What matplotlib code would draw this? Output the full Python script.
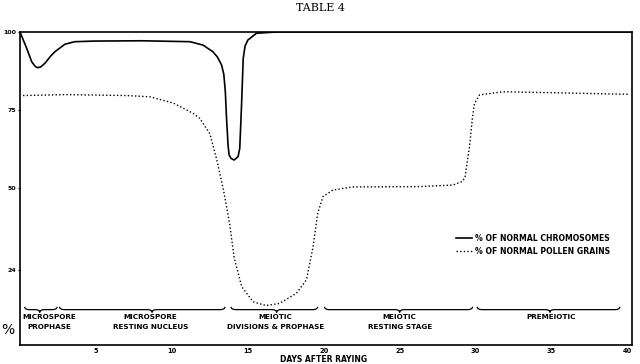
import matplotlib
matplotlib.use('Agg')
import matplotlib.pyplot as plt
from matplotlib.path import Path
from matplotlib.patches import PathPatch

# 染色体正常百分比 (实线)
chrom_days = [0, 0.22, 0.44, 0.77, 1.0, 1.16, 1.35, 1.64, 2.0, 2.3, 2.96, 3.6, 4.9, 8.0,
              11.2, 12.06, 12.7, 13.0, 13.27, 13.42, 13.52, 13.6, 13.7, 13.77, 13.9, 14.1,
              14.36, 14.47, 14.58, 14.7, 14.82, 15.0, 15.57, 16.9, 20, 30, 40.3]
chrom_pct = [100, 97.4, 94.8, 90.5, 89.0, 88.6, 88.8, 90.0, 92.2, 93.7, 96.1, 96.9, 97.1, 97.2,
             96.9, 95.8, 93.7, 92.0, 89.5, 86.5, 81.0, 72.5, 63.9, 60.7, 59.6, 59.1,
             60.2, 62.8, 75.6, 91.6, 95.5, 97.4, 99.6, 100, 100, 100, 100]

# 花粉正常百分比 (虚线)
pollen_days = [0.2, 3.0, 7.0, 8.55, 10.1, 11.4, 11.84, 12.5, 12.94, 13.4, 13.8, 14.1, 14.6,
               15.35, 16.2, 17.1, 18.2, 18.86, 19.3, 19.6, 19.95, 20.6, 21.9, 26.3, 28.5,
               29.1, 29.3, 29.6, 29.8, 29.93, 30.26, 31.8, 35.1, 40.1]
pollen_pct = [79.7, 80.0, 79.7, 79.3, 77.3, 74.0, 72.4, 67.5, 59.5, 49.5, 38.9, 28.0, 18.6,
              13.8, 12.6, 13.3, 16.5, 20.8, 31.4, 42.0, 47.4, 49.5, 50.5, 50.6, 51.1,
              52.2, 53.4, 63.4, 72.9, 77.2, 79.9, 80.9, 80.6, 80.1]

# 各阶段
phase_start = [0.3, 2.6, 13.9, 20.05, 30.1]
phase_end = [2.45, 13.5, 19.6, 29.8, 39.5]
phase_tip = [1.3, 8.7, 16.9, 25.0, 34.9]
phase_label_x = [1.95, 8.6, 16.8, 25.0, 35.0]
phase_labels = ['MICROSPORE\nPROPHASE', 'MICROSPORE\nRESTING NUCLEUS',
                'MEIOTIC\nDIVISIONS & PROPHASE', 'MEIOTIC\nRESTING STAGE', 'PREMEIOTIC']

x_ticks = [5, 10, 15, 20, 25, 30, 35, 40]
y_ticks = [24, 50, 75, 100]
y_tick_labels = ['24', '50', '75', '100']
legend_labels = ['% OF NORMAL CHROMOSOMES', '% OF NORMAL POLLEN GRAINS']

plt.rcParams['font.family'] = ['DejaVu Sans']
fig = plt.figure(figsize=(6.4, 3.64), dpi=100)
ax = fig.add_axes([20 / 640, 1 - 345 / 364, 612 / 640, 313 / 364])

ax.plot(chrom_days, chrom_pct, color='black', lw=1.2, solid_joinstyle='round',
        label=legend_labels[0])
ax.plot(pollen_days, pollen_pct, color='black', lw=1.0, linestyle=(0, (1, 1.6)),
        label=legend_labels[1])

ax.set_xlim(0, 40.3)
ax.set_ylim(0, 100)

for s in ax.spines.values():
    s.set_linewidth(1.2)

ax.set_xticks(x_ticks)
ax.set_xticklabels([str(t) for t in x_ticks], fontsize=4.8, fontweight='bold')
ax.set_yticks(y_ticks)
ax.set_yticklabels(y_tick_labels, fontsize=4.5, fontweight='bold')
ax.tick_params(axis='x', length=0, pad=2.5)
ax.tick_params(axis='y', length=1.5, width=0.8, pad=1)

# 大括号
y_br, h, d = 11.3, 0.9, 0.3
for x0, x1, xm in zip(phase_start, phase_end, phase_tip):
    verts = [(x0, y_br + h), (x0 + 0.02, y_br), (x0 + d, y_br),
             (xm - d, y_br), (xm, y_br), (xm, y_br - h),
             (xm, y_br), (xm + d, y_br),
             (x1 - d, y_br), (x1 - 0.02, y_br), (x1, y_br + h)]
    codes = [Path.MOVETO, Path.CURVE3, Path.CURVE3,
             Path.LINETO, Path.CURVE3, Path.CURVE3,
             Path.CURVE3, Path.CURVE3,
             Path.LINETO, Path.CURVE3, Path.CURVE3]
    ax.add_patch(PathPatch(Path(verts, codes), fill=False, lw=0.9, color='black'))

for xl, lab in zip(phase_label_x, phase_labels):
    ax.text(xl, 10.0, lab, ha='center', va='top', fontsize=5.2, fontweight='bold',
            linespacing=1.9)

ax.legend(loc='center left', bbox_to_anchor=(0.706, 0.32), frameon=False,
          prop={'size': 5.6, 'weight': 'bold'}, handlelength=2.1, handletextpad=0.3,
          labelspacing=0.5, borderpad=0)

fig.text(8 / 640, 1 - 330 / 364, '%', fontsize=10, ha='center', va='center')
fig.text(324 / 640, 1 - 360 / 364, 'DAYS AFTER RAYING', fontsize=5.5, fontweight='bold',
         ha='center', va='center')
fig.text(321 / 640, 1 - 8 / 364, 'TABLE 4', fontsize=8, family='DejaVu Serif',
         ha='center', va='center')

fig.savefig('out.png', dpi=100)
